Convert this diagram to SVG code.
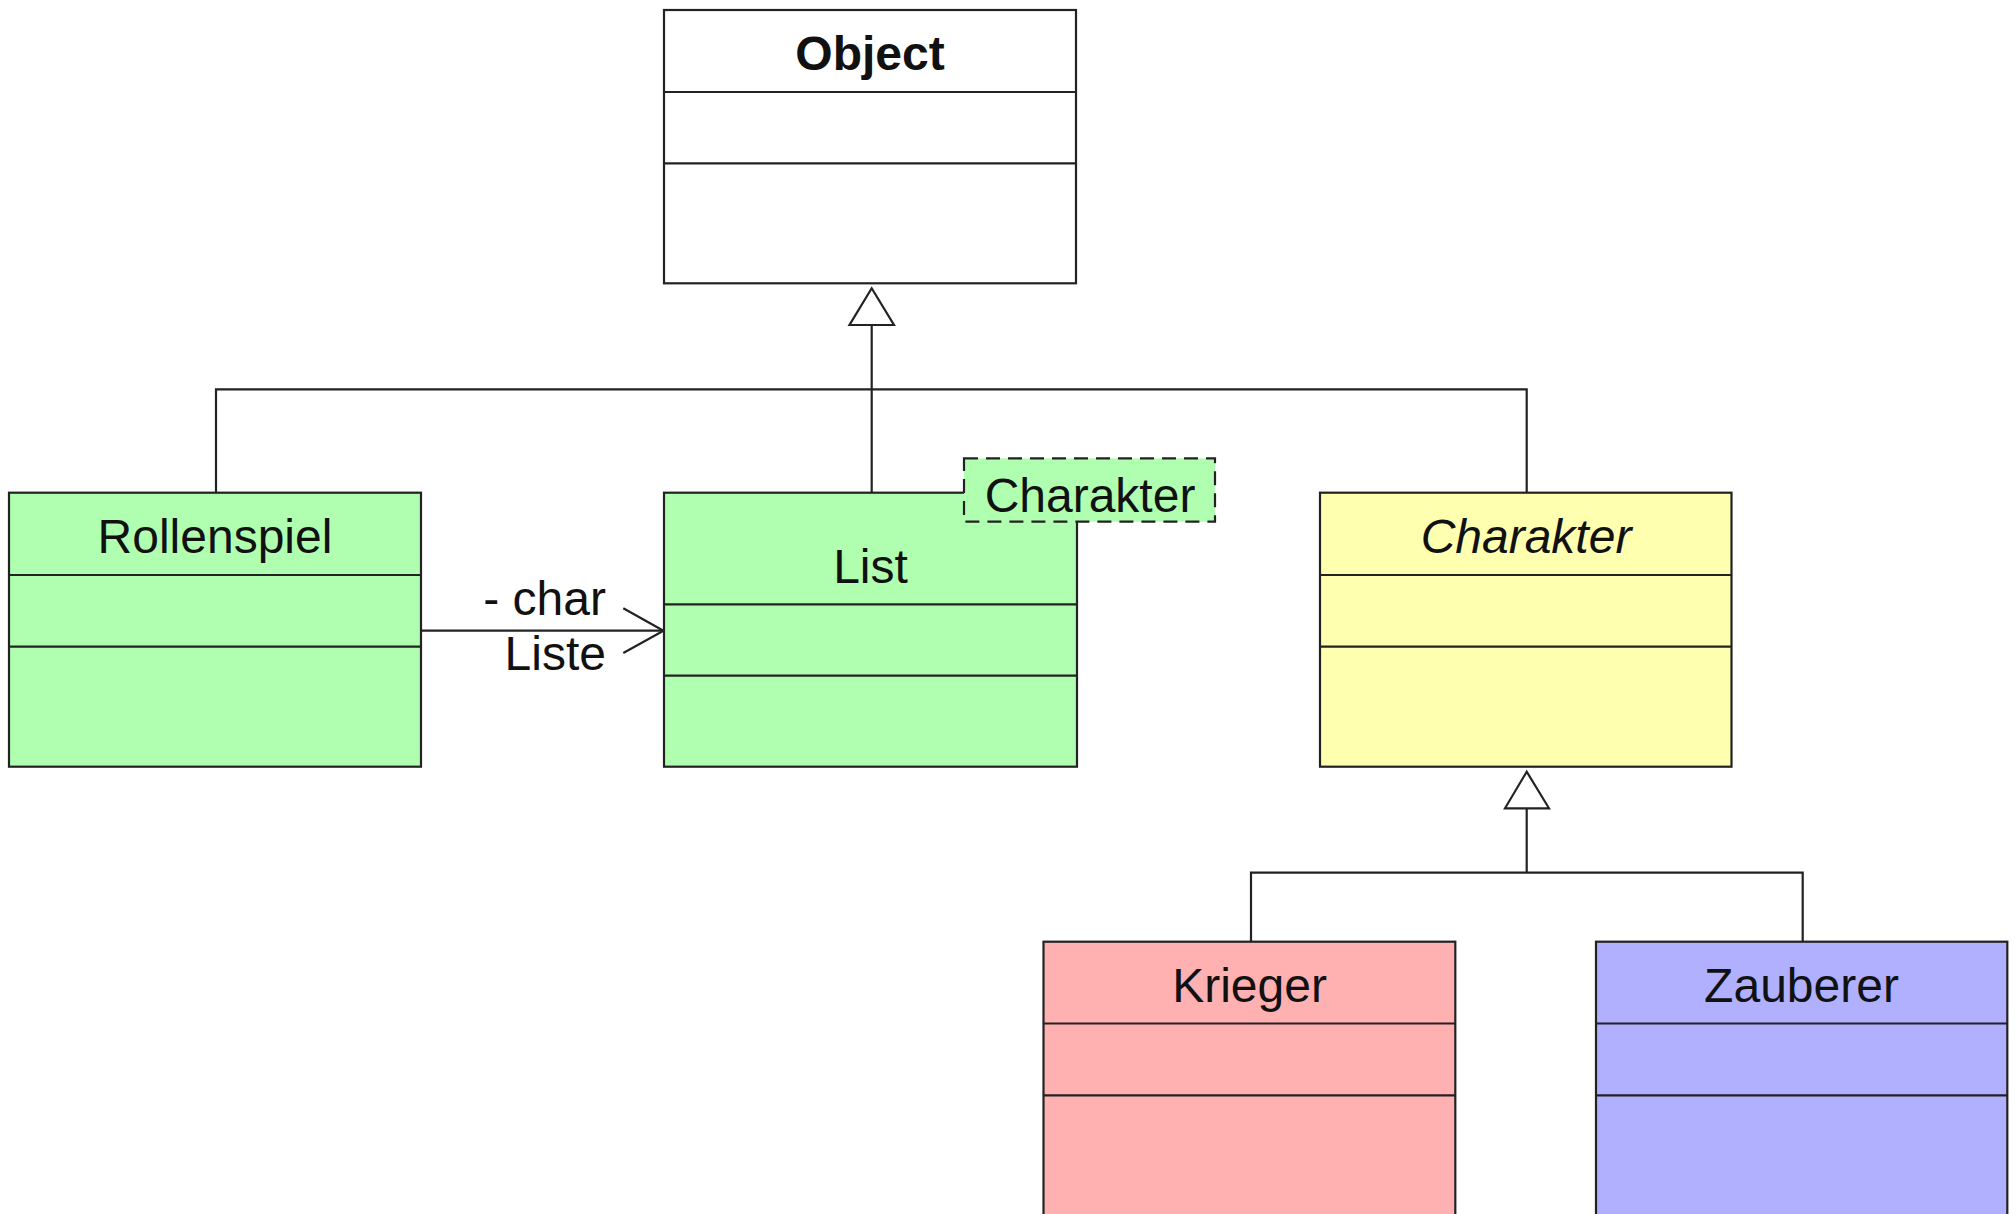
<svg xmlns="http://www.w3.org/2000/svg" width="2015" height="1214" viewBox="0 0 2015 1214">
  <defs>
    <style>
      .box { stroke: #222; stroke-width: 2.2; }
      .sep { stroke: #222; stroke-width: 2.2; }
      .white { fill: #ffffff; }
      .green { fill: #b0ffb0; }
      .yellow { fill: #ffffb0; }
      .red { fill: #ffb0b0; }
      .blue { fill: #b0b0ff; }
      .name { font-family: "Liberation Sans", Arial, sans-serif; font-size: 48px; fill: #111; text-anchor: middle; }
      .bold { font-weight: bold; }
      .abstract { font-style: italic; }
      .label { font-family: "Liberation Sans", Arial, sans-serif; font-size: 48px; fill: #111; text-anchor: end; }
      .conn { fill: none; stroke: #222; stroke-width: 2.2; }
      .gen { fill: #ffffff; stroke: #222; stroke-width: 2.2; stroke-linejoin: miter; }
      .tparam { stroke: #222; stroke-width: 2.2; stroke-dasharray: 14 8; }
    </style>
  </defs>

  <rect x="0" y="0" width="2015" height="1214" fill="#ffffff"/>

  <!-- connectors: generalizations and the association -->
  <g id="connectors">
    <!-- Rollenspiel, List, Charakter extend Object -->
    <polyline class="conn" points="216,492.7 216,389.3 1526.7,389.3 1526.7,492.7"/>
    <line class="conn" x1="871.7" y1="325" x2="871.7" y2="492.7"/>
    <polygon class="gen" points="871.7,288.3 849.5,325 894,325"/>
    <!-- Krieger, Zauberer extend Charakter -->
    <polyline class="conn" points="1251,941.7 1251,872.7 1802.7,872.7 1802.7,941.7"/>
    <line class="conn" x1="1526.7" y1="808.3" x2="1526.7" y2="872.7"/>
    <polygon class="gen" points="1526.7,771.7 1505,808.3 1549,808.3"/>
    <!-- Rollenspiel -> List association -->
    <line class="conn" x1="421" y1="630.7" x2="663" y2="630.7"/>
    <polyline class="conn" points="623.3,608.3 663.5,630.7 623.3,653"/>
    <text class="label" x="606" y="615">- char</text>
    <text class="label" x="606" y="670">Liste</text>
  </g>

  <g id="object">
    <rect class="box white" x="664" y="10" width="412" height="273.3"/>
    <line class="sep" x1="664" y1="92" x2="1076" y2="92"/>
    <line class="sep" x1="664" y1="163.3" x2="1076" y2="163.3"/>
    <text class="name bold" x="870" y="70">Object</text>
  </g>

  <g id="rollenspiel">
    <rect class="box green" x="9" y="492.7" width="412" height="274"/>
    <line class="sep" x1="9" y1="575" x2="421" y2="575"/>
    <line class="sep" x1="9" y1="646.7" x2="421" y2="646.7"/>
    <text class="name" x="215" y="552.7">Rollenspiel</text>
  </g>

  <g id="list">
    <rect class="box green" x="664" y="492.7" width="413" height="274"/>
    <line class="sep" x1="664" y1="604.3" x2="1077" y2="604.3"/>
    <line class="sep" x1="664" y1="675.7" x2="1077" y2="675.7"/>
    <text class="name" x="870.5" y="583">List</text>
    <!-- template parameter -->
    <rect class="tparam green" x="964" y="458.3" width="251" height="63.4"/>
    <text class="name" x="1090" y="511.7">Charakter</text>
  </g>

  <g id="charakter">
    <rect class="box yellow" x="1320" y="492.7" width="411.5" height="274"/>
    <line class="sep" x1="1320" y1="575" x2="1731.5" y2="575"/>
    <line class="sep" x1="1320" y1="646.7" x2="1731.5" y2="646.7"/>
    <text class="name abstract" x="1526" y="552.7">Charakter</text>
  </g>

  <g id="krieger">
    <rect class="box red" x="1043.5" y="941.7" width="411.8" height="280"/>
    <line class="sep" x1="1043.5" y1="1023.5" x2="1455.3" y2="1023.5"/>
    <line class="sep" x1="1043.5" y1="1095.3" x2="1455.3" y2="1095.3"/>
    <text class="name" x="1249.5" y="1001.7">Krieger</text>
  </g>

  <g id="zauberer">
    <rect class="box blue" x="1596" y="941.7" width="411.3" height="280"/>
    <line class="sep" x1="1596" y1="1023.5" x2="2007.3" y2="1023.5"/>
    <line class="sep" x1="1596" y1="1095.3" x2="2007.3" y2="1095.3"/>
    <text class="name" x="1801.5" y="1001.7">Zauberer</text>
  </g>
</svg>
